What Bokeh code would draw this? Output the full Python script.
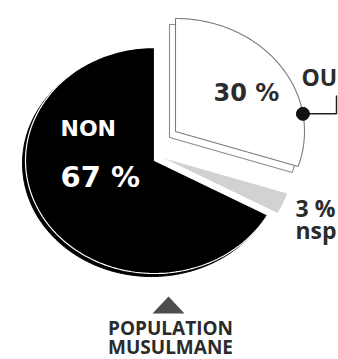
import numpy as np
from bokeh.plotting import figure
from bokeh.models import Range1d
from bokeh.core.properties import value
from bokeh.embed import file_html
from bokeh.resources import INLINE

# Survey answers, clockwise from 12 o'clock
categories = ["OU", "nsp", "NON"]
shares = [30, 3, 67]
share_labels = ["30 %", "3 %", "67 %"]
caption_lines = ["POPULATION", "MUSULMANE"]

W, H = 338, 359
RX, RY = 129, 113  # tilted pie: horizontal / vertical semi-axes (px)

# slice apex (exploded slices are shifted) and drop-shadow offsets
centres = {"OU": (175, 131), "nsp": (164, 158), "NON": (154, 160)}
shadow = {"OU": (-6, 6), "NON": (-3, 3)}

# text anchor sits slightly above the drawn baseline
LIFT = 7


def ellipse_point(cx, cy, deg):
    t = np.radians(deg)
    return cx + RX * np.cos(t), cy - RY * np.sin(t)


def wedge(cx, cy, t0, t1, n=160):
    t = np.linspace(t0, t1, n)
    ex, ey = ellipse_point(cx, cy, t)
    return list(np.concatenate([[cx], ex, [cx]])), list(np.concatenate([[cy], ey, [cy]]))


# angular span of each slice, going clockwise from the top
spans = {}
start = 90.0
for cat, s in zip(categories, shares):
    end = start - s * 3.6
    spans[cat] = (end, start)
    start = end

p = figure(width=W, height=H, x_range=Range1d(0, W), y_range=Range1d(H, 0),
           output_backend="svg", toolbar_location=None, min_border=0,
           x_axis_location=None, y_axis_location=None)
p.grid.visible = False
p.outline_line_color = None
p.background_fill_color = "white"
p.border_fill_color = "white"

# NON: black slice over its offset shadow, separated by a thin white rim
cx, cy = centres["NON"]
ox, oy = shadow["NON"]
xs, ys = wedge(cx + ox, cy + oy, *spans["NON"])
p.patch(xs, ys, fill_color="black", line_color="black", line_width=1)
xs, ys = wedge(cx, cy, *spans["NON"])
p.patch(xs, ys, fill_color="black", line_color="white", line_width=1.2)

# nsp: light grey sliver
cx, cy = centres["nsp"]
xs, ys = wedge(cx, cy, *spans["nsp"])
p.patch(xs, ys, fill_color="#d2d2d2", line_color=None)

# OU: white slice with a grey outline and a stacked shadow copy
cx, cy = centres["OU"]
ox, oy = shadow["OU"]
xs, ys = wedge(cx + ox, cy + oy, *spans["OU"])
p.patch(xs, ys, fill_color="white", line_color="#8c8c8c", line_width=1.1)
xs, ys = wedge(cx, cy, *spans["OU"])
p.patch(xs, ys, fill_color="white", line_color="#7a7a7a", line_width=1.1)

# callout from the OU rim to its label
dx, dy = ellipse_point(cx, cy, 9.0)
p.line([dx, 336, 336], [dy, dy, 95], line_color="#222222", line_width=1.5)
p.scatter([dx], [dy], size=13, fill_color="#111111", line_color="#111111")

bold_wide = value("DejaVu Sans")
bold_narrow = value("Open Sans")


def label(x, y, txt, font, size, color, align="left"):
    p.text([x], [y - LIFT], text=[txt], text_font=font, text_font_size=size,
           text_font_style="bold", text_color=color, text_align=align,
           text_baseline="alphabetic")


lbl = dict(zip(categories, share_labels))
label(60, 135, "NON", bold_wide, "22px", "white")
label(60, 183, lbl["NON"], bold_wide, "29px", "white")
label(213, 99, lbl["OU"], bold_wide, "24px", "#2b2b2b")
label(301, 83, "OU", bold_narrow, "23px", "#2b2b2b")
label(295, 214, lbl["nsp"], bold_narrow, "23px", "#2b2b2b")
label(295, 236, "nsp", bold_narrow, "23px", "#2b2b2b")

# pointer triangle and caption
tx, ty, tw, th = 168, 313, 32, 17
p.patch([tx - tw / 2, tx + tw / 2, tx], [ty, ty, ty - th], fill_color="#4d4d4d", line_color=None)
label(170, 334, caption_lines[0], bold_narrow, "19px", "#2b2b2b", "center")
label(170, 353, caption_lines[1], bold_narrow, "19px", "#2b2b2b", "center")

open("out.html", "w").write(file_html(p, INLINE))
